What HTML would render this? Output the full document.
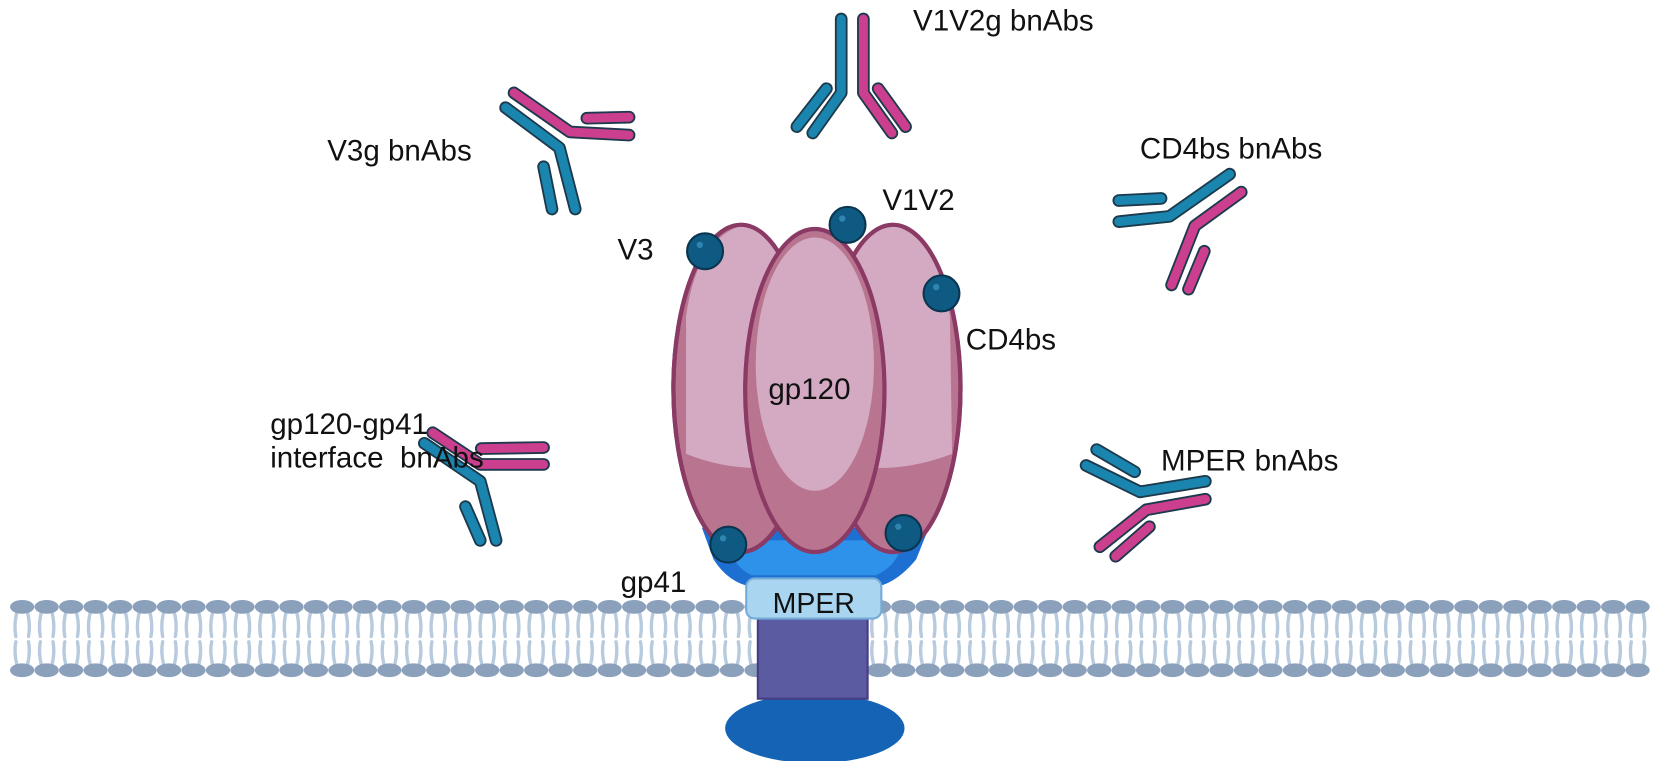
<!DOCTYPE html>
<html><head><meta charset="utf-8"><style>
html,body{margin:0;padding:0;background:#fff;}
svg{display:block;}
text{font-family:"Liberation Sans",Arial,sans-serif;fill:#111;}
</style></head><body>
<svg width="1655" height="761" viewBox="0 0 1568 721" preserveAspectRatio="none" xmlns="http://www.w3.org/2000/svg" xmlns:xlink="http://www.w3.org/1999/xlink">
<defs>
<g id="lip">
  <path d="M-5,580 Q-8,592 -6,603 M5,580 Q8,592 6,603" stroke="#b8cade" stroke-width="3.2" fill="none" stroke-linecap="round"/>
  <path d="M-5,630 Q-8,618 -6,608 M5,630 Q8,618 6,608" stroke="#b8cade" stroke-width="3.2" fill="none" stroke-linecap="round"/>
  <ellipse cx="0" cy="575" rx="11.5" ry="6.5" fill="#8aa0bb"/>
  <ellipse cx="0" cy="635" rx="11.5" ry="6.5" fill="#8aa0bb"/>
</g>
</defs>
<g>
<use href="#lip" x="21"/><use href="#lip" x="44.2"/><use href="#lip" x="67.4"/><use href="#lip" x="90.6"/><use href="#lip" x="113.8"/><use href="#lip" x="137"/><use href="#lip" x="160.1"/><use href="#lip" x="183.3"/><use href="#lip" x="206.5"/><use href="#lip" x="229.7"/><use href="#lip" x="252.9"/><use href="#lip" x="276.1"/><use href="#lip" x="299.3"/><use href="#lip" x="322.5"/><use href="#lip" x="345.7"/><use href="#lip" x="368.9"/><use href="#lip" x="392"/><use href="#lip" x="415.2"/><use href="#lip" x="438.4"/><use href="#lip" x="461.6"/><use href="#lip" x="484.8"/><use href="#lip" x="508"/><use href="#lip" x="531.2"/><use href="#lip" x="554.4"/><use href="#lip" x="577.6"/><use href="#lip" x="600.8"/><use href="#lip" x="623.9"/><use href="#lip" x="647.1"/><use href="#lip" x="670.3"/><use href="#lip" x="693.5"/><use href="#lip" x="716.7"/><use href="#lip" x="739.9"/><use href="#lip" x="763.1"/><use href="#lip" x="786.3"/><use href="#lip" x="809.5"/><use href="#lip" x="832.7"/><use href="#lip" x="855.8"/><use href="#lip" x="879"/><use href="#lip" x="902.2"/><use href="#lip" x="925.4"/><use href="#lip" x="948.6"/><use href="#lip" x="971.8"/><use href="#lip" x="995"/><use href="#lip" x="1018.2"/><use href="#lip" x="1041.4"/><use href="#lip" x="1064.6"/><use href="#lip" x="1087.7"/><use href="#lip" x="1110.9"/><use href="#lip" x="1134.1"/><use href="#lip" x="1157.3"/><use href="#lip" x="1180.5"/><use href="#lip" x="1203.7"/><use href="#lip" x="1226.9"/><use href="#lip" x="1250.1"/><use href="#lip" x="1273.3"/><use href="#lip" x="1296.5"/><use href="#lip" x="1319.6"/><use href="#lip" x="1342.8"/><use href="#lip" x="1366"/><use href="#lip" x="1389.2"/><use href="#lip" x="1412.4"/><use href="#lip" x="1435.6"/><use href="#lip" x="1458.8"/><use href="#lip" x="1482"/><use href="#lip" x="1505.2"/><use href="#lip" x="1528.4"/><use href="#lip" x="1551.5"/>
</g>

<!-- antibodies -->
<g fill="none" stroke-linecap="round" stroke-linejoin="round">
  <g stroke="#1c3a4c" stroke-width="12">
    <path d="M797,18 V88 L770,126"/><path d="M783,84 L755,120"/>
    <path d="M818,18 V88 L845,126"/><path d="M832,84 L858,120"/>
    <path d="M487,88 L540,125 L596,128"/><path d="M556,112 L596,111"/>
    <path d="M479,102 L530,140 L545,198"/><path d="M515,158 L523,198"/>
    <path d="M1165,165 L1108,205 L1060,210"/><path d="M1060,190 L1100,188"/>
    <path d="M1176,182 L1132,214 L1110,270"/><path d="M1141,238 L1126,274"/>
    <path d="M1029,441 L1080,466 L1142,456"/><path d="M1039,426 L1075,447"/>
    <path d="M1142,473 L1086,483 L1042,518"/><path d="M1089,499 L1057,527"/>
    <path d="M410,410 L455,440 L515,440"/><path d="M456,425 L515,424"/>
    <path d="M402,420 L455,456 L470,512"/><path d="M441,480 L455,512"/>
  </g>
  <g stroke-width="8.5">
    <g stroke="#1a86b0">
      <path d="M797,18 V88 L770,126"/><path d="M783,84 L755,120"/>
      <path d="M479,102 L530,140 L545,198"/><path d="M515,158 L523,198"/>
      <path d="M1165,165 L1108,205 L1060,210"/><path d="M1060,190 L1100,188"/>
      <path d="M1029,441 L1080,466 L1142,456"/><path d="M1039,426 L1075,447"/>
      <path d="M402,420 L455,456 L470,512"/><path d="M441,480 L455,512"/>
    </g>
    <g stroke="#cc3f8e">
      <path d="M818,18 V88 L845,126"/><path d="M832,84 L858,120"/>
      <path d="M487,88 L540,125 L596,128"/><path d="M556,112 L596,111"/>
      <path d="M1176,182 L1132,214 L1110,270"/><path d="M1141,238 L1126,274"/>
      <path d="M1142,473 L1086,483 L1042,518"/><path d="M1089,499 L1057,527"/>
      <path d="M410,410 L455,440 L515,440"/><path d="M456,425 L515,424"/>
    </g>
  </g>
</g>

<ellipse cx="772" cy="690" rx="85" ry="33" fill="#1463b4"/>
<rect x="718" y="586" width="104" height="76" fill="#5b5ba2" stroke="#463c82" stroke-width="2"/>
<path d="M665,500 L880,500 L868,530 Q850,552 830,556 L712,556 Q690,552 676,530 Z" fill="#1e6fd2"/>
<path d="M690,512 L855,512 Q852,535 830,545 L712,545 Q692,535 690,512 Z" fill="#2e92ea"/>
<rect x="707" y="548" width="128" height="38" rx="8" fill="#a9d5f0" stroke="#74acd9" stroke-width="2"/>
<text x="771" y="581" font-size="27" text-anchor="middle">MPER</text>

<g stroke="#8a3a64" stroke-width="4">
  <ellipse cx="702" cy="368" rx="64" ry="155" fill="#b9758f"/>
  <ellipse cx="846" cy="368" rx="64" ry="155" fill="#b9758f"/>
</g>
<path d="M650,300 Q660,225 705,213 Q745,215 752,300 L752,440 Q700,450 650,430 Z" fill="#d4aac3"/>
<path d="M900,300 Q890,225 845,213 Q805,215 800,300 L800,440 Q850,450 902,430 Z" fill="#d4aac3"/>
<g stroke="#8a3a64" stroke-width="4" fill="none">
  <ellipse cx="702" cy="368" rx="64" ry="155"/>
  <ellipse cx="846" cy="368" rx="64" ry="155"/>
</g>
<ellipse cx="772" cy="370" rx="66" ry="153" fill="#b9758f" stroke="#8a3a64" stroke-width="4"/>
<ellipse cx="772" cy="345" rx="56" ry="120" fill="#d4aac3"/>
<text x="728" y="378" font-size="28">gp120</text>

<g fill="#0f5a82" stroke="#0a3550" stroke-width="2">
  <circle cx="668" cy="238" r="17"/><circle cx="803" cy="213" r="17"/>
  <circle cx="892" cy="278" r="17"/><circle cx="690" cy="516" r="17"/>
  <circle cx="856" cy="505" r="17"/>
</g>
<g fill="#2e86b0">
  <circle cx="663" cy="232" r="3"/><circle cx="798" cy="207" r="3"/>
  <circle cx="887" cy="272" r="3"/><circle cx="685" cy="510" r="3"/>
  <circle cx="851" cy="499" r="3"/>
</g>

<g font-size="28">
<text x="865" y="29">V1V2g bnAbs</text>
<text x="310" y="152">V3g bnAbs</text>
<text x="1080" y="150">CD4bs bnAbs</text>
<text x="585" y="246">V3</text>
<text x="836" y="199">V1V2</text>
<text x="915" y="331">CD4bs</text>
<text x="256" y="411">gp120-gp41</text>
<text x="256" y="443" xml:space="preserve">interface  bnAbs</text>
<text x="1100" y="446">MPER bnAbs</text>
<text x="588" y="561">gp41</text>
</g>
</svg>
</body></html>
